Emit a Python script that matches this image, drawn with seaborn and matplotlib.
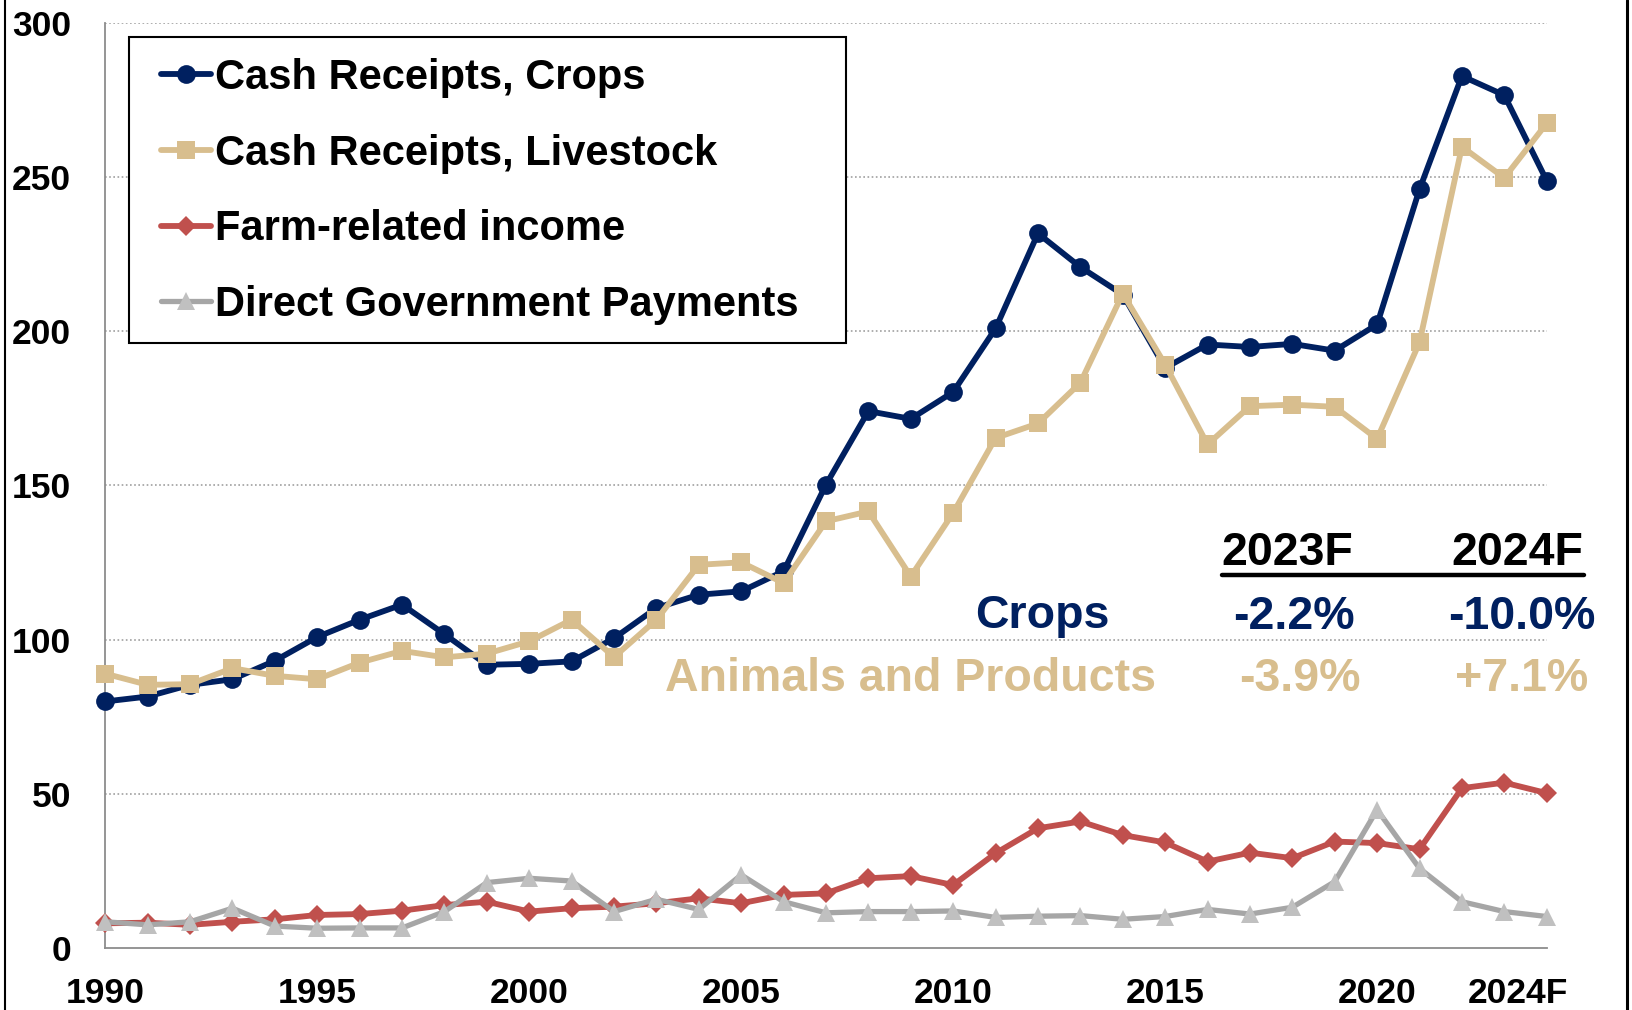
import matplotlib
matplotlib.use("Agg")
import matplotlib.pyplot as plt
import matplotlib.transforms as mtransforms
from matplotlib.lines import Line2D
from matplotlib.patches import Rectangle
import pandas as pd
import seaborn as sns

# ---- data (billions of dollars) ----
years = list(range(1990, 2025))
crops = [80.0, 81.6, 85.4, 87.2, 93.2, 100.9, 106.5, 111.4, 101.8, 91.9,
         92.2, 93.0, 100.5, 110.3, 114.6, 115.7, 122.2, 150.3, 174.1, 171.6,
         180.3, 200.9, 231.7, 220.8, 211.9, 188.1, 195.7, 194.9, 195.9, 193.7,
         202.2, 246.0, 282.7, 276.5, 248.8]
livestock = [89.0, 85.4, 85.6, 90.8, 88.3, 87.2, 92.6, 96.4, 94.3, 95.5,
             99.5, 106.5, 94.4, 106.5, 124.3, 125.1, 118.4, 138.4, 141.6, 120.5,
             141.1, 165.4, 170.1, 183.3, 212.2, 189.2, 163.3, 175.7, 176.2, 175.5,
             165.1, 196.4, 259.8, 249.7, 267.4]
farm_related = [8.1, 8.3, 7.6, 8.6, 9.4, 10.8, 11.1, 12.2, 14.0, 15.1,
                11.9, 13.0, 13.5, 14.6, 16.2, 14.6, 17.3, 17.8, 22.7, 23.4,
                20.5, 30.8, 38.9, 41.1, 36.7, 34.3, 28.1, 31.0, 29.2, 34.6,
                34.1, 32.1, 51.9, 53.7, 50.3]
govt_payments = [8.6, 7.6, 8.6, 13.0, 7.2, 6.5, 6.6, 6.6, 11.9, 21.3,
                 22.7, 21.8, 11.9, 15.9, 12.6, 23.8, 15.1, 11.5, 11.9, 11.9,
                 12.1, 10.0, 10.4, 10.6, 9.4, 10.3, 12.6, 11.1, 13.3, 21.6,
                 44.9, 25.9, 15.1, 11.9, 10.3]

series_names = ["Cash Receipts, Crops", "Cash Receipts, Livestock",
                "Farm-related income", "Direct Government Payments"]
tick_years = [1990, 1995, 2000, 2005, 2010, 2015, 2020, 2024]
tick_labels = ["1990", "1995", "2000", "2005", "2010", "2015", "2020", "2024F"]

forecast_cols = ["2023F", "2024F"]
row_names = ["Crops", "Animals and Products"]
crops_change = ["-2.2%", "-10.0%"]
animals_change = ["-3.9%", "+7.1%"]

# ---- styling ----
NAVY = "#002060"
TAN = "#D8BE8E"
RED = "#C0504D"
GRAY_LINE = "#A6A6A6"
GRAY_MARK = "#C0C0C0"
FIG_W, FIG_H = 1633, 1010

sns.set_theme(style="white")
plt.rcParams["font.family"] = ["Liberation Sans", "DejaVu Sans"]
plt.rcParams["font.weight"] = "bold"
plt.rcParams["text.color"] = "black"

df = pd.DataFrame({
    "year": years * 4,
    "value": crops + livestock + farm_related + govt_payments,
    "series": sum([[n] * len(years) for n in series_names], []),
})

fig = plt.figure(figsize=(FIG_W / 100, FIG_H / 100), dpi=100)
ax_left, ax_right = 105.3, 1546.7
ax_top, ax_bottom = 22.7, 948.3
ax = fig.add_axes([ax_left / FIG_W, 1 - ax_bottom / FIG_H,
                   (ax_right - ax_left) / FIG_W, (ax_bottom - ax_top) / FIG_H])

styles = {
    series_names[0]: dict(color=NAVY, marker="o", markersize=13.5, mfc=NAVY, lw=4.2),
    series_names[1]: dict(color=TAN, marker="s", markersize=12.5, mfc=TAN, lw=4.2),
    series_names[2]: dict(color=RED, marker="D", markersize=10, mfc=RED, lw=4.2),
    series_names[3]: dict(color=GRAY_LINE, marker="^", markersize=13, mfc=GRAY_MARK, lw=3.8),
}

for i, name in enumerate(series_names):
    st = styles[name]
    sub = df[df["series"] == name]
    sns.lineplot(data=sub, x="year", y="value", ax=ax, color=st["color"],
                 marker=st["marker"], markersize=st["markersize"],
                 markerfacecolor=st["mfc"], markeredgecolor=st["mfc"],
                 markeredgewidth=0, linewidth=st["lw"], label=name,
                 zorder=3 + i, clip_on=False)

ax.set_xlim(1990, 2024)
ax.set_ylim(0, 300)
ax.set_xlabel("")
ax.set_ylabel("")

# axes spines and ticks
for s in ["top", "right"]:
    ax.spines[s].set_visible(False)
for s in ["left", "bottom"]:
    ax.spines[s].set_color("#8C8C8C")
    ax.spines[s].set_linewidth(1.3)

ax.set_xticks(years)
ax.set_xticklabels([tick_labels[tick_years.index(y)] if y in tick_years else ""
                    for y in years])
ax.set_yticks([0, 50, 100, 150, 200, 250, 300])
ax.set_yticklabels(["0", "50", "100", "150", "200", "250", "300"])
ax.tick_params(axis="both", direction="out", length=7.5, width=1.3,
               color="#8C8C8C", labelsize=25.5, labelcolor="black")
ax.tick_params(axis="y", pad=17)
ax.tick_params(axis="x", pad=13)
for lab in ax.get_xticklabels() + ax.get_yticklabels():
    lab.set_fontweight("bold")

# forecast-year label sits a little left of its tick
last = ax.get_xticklabels()[-1]
last.set_transform(last.get_transform() +
                   mtransforms.ScaledTranslation(-29 / 100, 0, fig.dpi_scale_trans))

# dotted horizontal gridlines
for yv in [50, 100, 150, 200, 250, 300]:
    ax.axhline(yv, color="#A0A0A0", linestyle=(0, (1, 1.5)), linewidth=1.2,
               zorder=1)

# legend with a plain black box
box_l, box_r, box_t, box_b = 129.3, 845.6, 37.3, 342.7
ax.add_patch(Rectangle((box_l / FIG_W, 1 - box_b / FIG_H),
                       (box_r - box_l) / FIG_W, (box_b - box_t) / FIG_H,
                       transform=fig.transFigure, facecolor="white",
                       edgecolor="black", linewidth=1.5, zorder=9,
                       clip_on=False))
leg = ax.legend(loc="upper left", bbox_to_anchor=(160.7 / FIG_W, 1 - 58.0 / FIG_H),
                bbox_transform=fig.transFigure, borderaxespad=0, borderpad=0,
                frameon=False, prop={"size": 30, "weight": "bold"},
                handlelength=1.2, handletextpad=0.1, labelspacing=0.855,
                labelcolor="black")
leg.set_zorder(10)

# forecast change table
TXT = dict(fontsize=33.5, fontweight="bold")
ax.text(2017.87, 128.0, forecast_cols[0], ha="center", va="center",
        color="black", **TXT)
ax.text(2023.30, 128.0, forecast_cols[1], ha="center", va="center",
        color="black", **TXT)
ax.add_line(Line2D([2016.34, 2024.87], [121.0, 121.0], color="black",
                   linewidth=3.2, clip_on=False, zorder=5))

ax.text(2013.68, 107.6, row_names[0], ha="right", va="center", color=NAVY, **TXT)
ax.text(2014.79, 87.3, row_names[1], ha="right", va="center", color=TAN, **TXT)
ax.text(2018.03, 107.5, crops_change[0], ha="center", va="center", color=NAVY, **TXT)
ax.text(2023.41, 107.5, crops_change[1], ha="center", va="center", color=NAVY, **TXT)
ax.text(2018.18, 87.3, animals_change[0], ha="center", va="center", color=TAN, **TXT)
ax.text(2023.41, 87.3, animals_change[1], ha="center", va="center", color=TAN, **TXT)

# side frame lines of the panel
fig.add_artist(Line2D([5 / FIG_W] * 2, [0, 1], transform=fig.transFigure,
                      color="black", linewidth=1.5))
fig.add_artist(Line2D([1627 / FIG_W] * 2, [0, 1], transform=fig.transFigure,
                      color="black", linewidth=2.2))

fig.savefig("out.png", dpi=100, facecolor="white")
